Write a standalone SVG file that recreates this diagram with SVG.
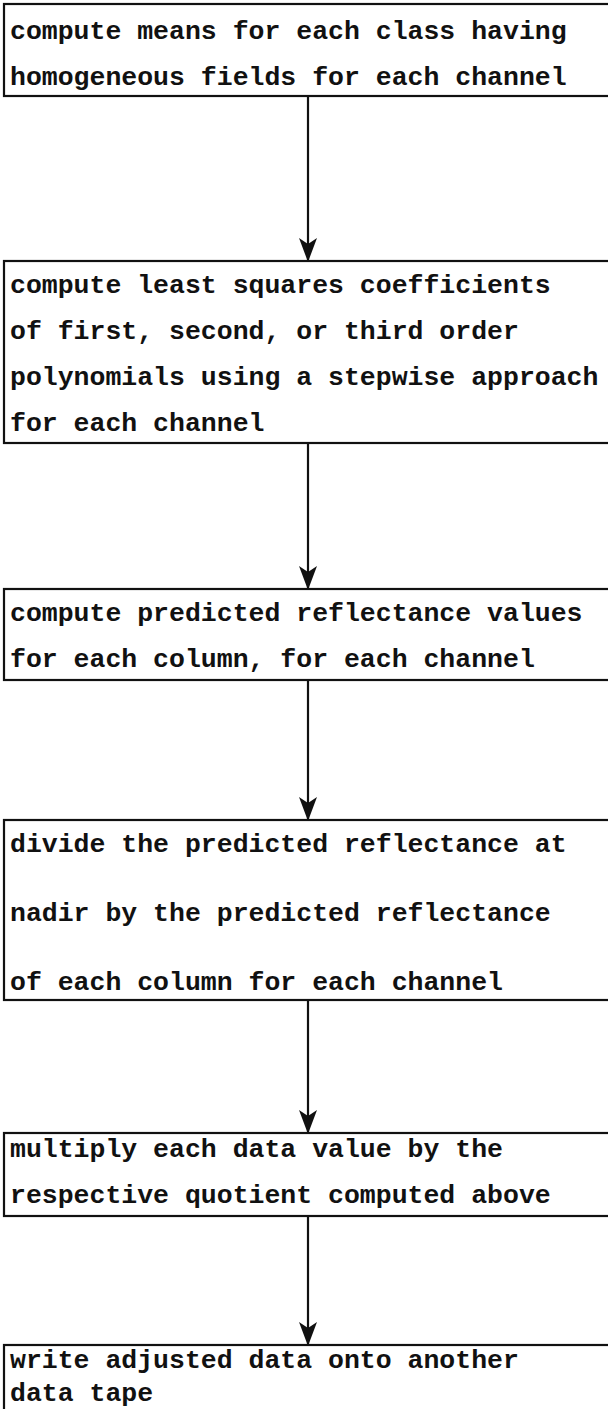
<svg xmlns="http://www.w3.org/2000/svg" width="608" height="1409" viewBox="0 0 608 1409">
<style>
.box{fill:#fff;stroke:#111;stroke-width:2.2}
.t{font-family:"Liberation Mono","DejaVu Sans Mono",monospace;font-weight:bold;font-size:26.5px;fill:#111}
.c{stroke:#111;stroke-width:2.2;fill:none}
</style>
<defs>
<marker id="ah" markerUnits="userSpaceOnUse" markerWidth="24" markerHeight="18" refX="23" refY="9" orient="auto" viewBox="0 0 24 18">
<path d="M0,0 L6,9 L0,18 L24,9 Z" fill="#111"/>
</marker>
</defs>
<rect width="608" height="1409" fill="#fff"/>
<g id="connectors">
<line class="c" x1="308" y1="96" x2="308" y2="261" marker-end="url(#ah)"/>
<line class="c" x1="308" y1="443" x2="308" y2="589" marker-end="url(#ah)"/>
<line class="c" x1="308" y1="680" x2="308" y2="820" marker-end="url(#ah)"/>
<line class="c" x1="308" y1="1000" x2="308" y2="1133" marker-end="url(#ah)"/>
<line class="c" x1="308" y1="1216" x2="308" y2="1345" marker-end="url(#ah)"/>
</g>
<g id="n1">
<rect class="box" x="4" y="4" width="610" height="92"/>
<text class="t" x="10" y="39">compute means for each class having</text>
<text class="t" x="10" y="85">homogeneous fields for each channel</text>
</g>
<g id="n2">
<rect class="box" x="4" y="261" width="610" height="182"/>
<text class="t" x="10" y="293">compute least squares coefficients</text>
<text class="t" x="10" y="339">of first, second, or third order</text>
<text class="t" x="10" y="385">polynomials using a stepwise approach</text>
<text class="t" x="10" y="431">for each channel</text>
</g>
<g id="n3">
<rect class="box" x="4" y="589" width="610" height="91"/>
<text class="t" x="10" y="621">compute predicted reflectance values</text>
<text class="t" x="10" y="667">for each column, for each channel</text>
</g>
<g id="n4">
<rect class="box" x="4" y="820" width="610" height="180"/>
<text class="t" x="10" y="852">divide the predicted reflectance at</text>
<text class="t" x="10" y="921">nadir by the predicted reflectance</text>
<text class="t" x="10" y="990">of each column for each channel</text>
</g>
<g id="n5">
<rect class="box" x="4" y="1133" width="610" height="83"/>
<text class="t" x="10" y="1157">multiply each data value by the</text>
<text class="t" x="10" y="1203">respective quotient computed above</text>
</g>
<g id="n6">
<rect class="box" x="4" y="1345" width="610" height="80"/>
<text class="t" x="10" y="1368">write adjusted data onto another</text>
<text class="t" x="10" y="1401">data tape</text>
</g>
</svg>
